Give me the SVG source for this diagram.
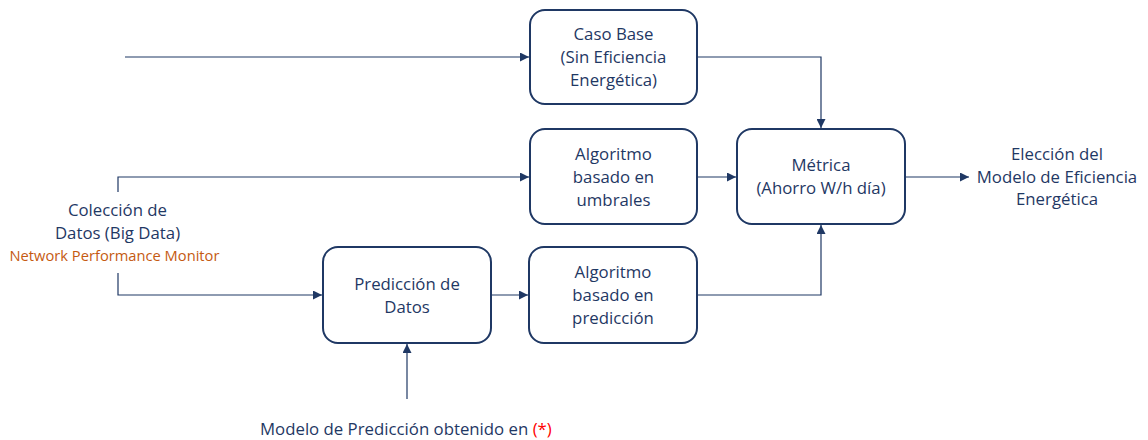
<svg xmlns="http://www.w3.org/2000/svg" width="1148" height="440" viewBox="0 0 1148 440">
<style>
.box{fill:#fff;stroke:#1F3864;stroke-width:2}
.t{font-family:"Open Sans","Liberation Sans",sans-serif;font-size:16.8px;fill:#1F3864;text-anchor:middle}
.c{fill:none;stroke:#1F3864;stroke-width:1.2}
</style>
<defs>
<marker id="ah" viewBox="0 0 10 10" refX="10" refY="5" markerWidth="9" markerHeight="9" markerUnits="userSpaceOnUse" orient="auto">
<path d="M0,0 L10,5 L0,10 Z" fill="#1F3864"/>
</marker>
</defs>
<rect width="1148" height="440" fill="#fff"/>
<g id="connectors">
<path class="c" d="M125,57 H529" marker-end="url(#ah)"/>
<path class="c" d="M697,57 H821 V128" marker-end="url(#ah)"/>
<path class="c" d="M118,192 V177 H529" marker-end="url(#ah)"/>
<path class="c" d="M697,177 H736" marker-end="url(#ah)"/>
<path class="c" d="M905,177 H969" marker-end="url(#ah)"/>
<path class="c" d="M118,273 V295 H322" marker-end="url(#ah)"/>
<path class="c" d="M491,295 H528" marker-end="url(#ah)"/>
<path class="c" d="M697,295 H821 V225" marker-end="url(#ah)"/>
<path class="c" d="M407,399 V344" marker-end="url(#ah)"/>
</g>
<g id="caso-base">
<rect class="box" x="530" y="10" width="167" height="94" rx="15"/>
<text class="t" x="613.5" y="40">Caso Base</text>
<text class="t" x="613.5" y="63">(Sin Eficiencia</text>
<text class="t" x="613.5" y="86">Energética)</text>
</g>
<g id="algoritmo-umbrales">
<rect class="box" x="530" y="129" width="167" height="95" rx="15"/>
<text class="t" x="613.5" y="159.5">Algoritmo</text>
<text class="t" x="613.5" y="182.5">basado en</text>
<text class="t" x="613.5" y="205.5">umbrales</text>
</g>
<g id="metrica">
<rect class="box" x="737" y="129" width="168" height="95" rx="15"/>
<text class="t" x="821" y="171">Métrica</text>
<text class="t" x="821" y="194">(Ahorro W/h día)</text>
</g>
<g id="prediccion-datos">
<rect class="box" x="323" y="247" width="168" height="96" rx="15"/>
<text class="t" x="407" y="289.5">Predicción de</text>
<text class="t" x="407" y="312.5">Datos</text>
</g>
<g id="algoritmo-prediccion">
<rect class="box" x="529" y="247" width="168" height="96" rx="15"/>
<text class="t" x="613" y="278">Algoritmo</text>
<text class="t" x="613" y="301">basado en</text>
<text class="t" x="613" y="324">predicción</text>
</g>
<g id="coleccion-datos">
<text class="t" x="117.5" y="216">Colección de</text>
<text class="t" x="117.5" y="239">Datos (Big Data)</text>
<text class="t" x="114.5" y="261" style="font-size:14.7px;fill:#C55A11">Network Performance Monitor</text>
</g>
<g id="eleccion-modelo">
<text class="t" x="1057" y="160">Elección del</text>
<text class="t" x="1057" y="183">Modelo de Eficiencia</text>
<text class="t" x="1057" y="205">Energética</text>
</g>
<g id="modelo-prediccion">
<text class="t" x="260" y="435" style="text-anchor:start">Modelo de Predicción obtenido en <tspan fill="#FF0000">(*)</tspan></text>
</g>
</svg>
